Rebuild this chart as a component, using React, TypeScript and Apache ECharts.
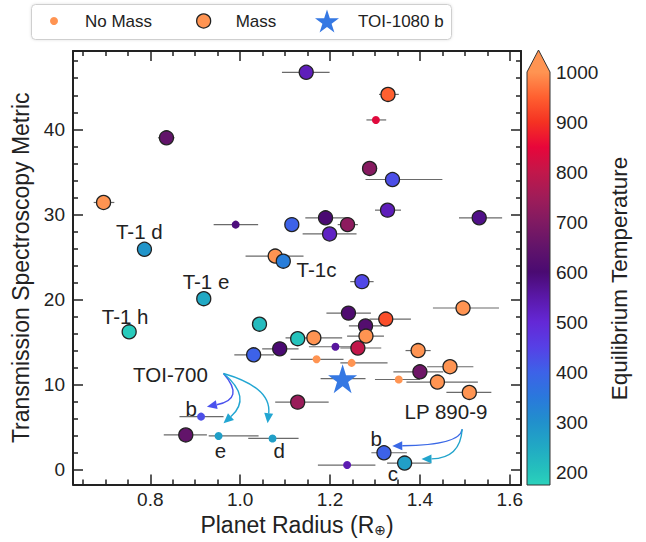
import React, { useEffect, useRef } from 'react';
import * as echarts from 'echarts';

// ---------- data ----------
// [radius (R_earth), TSM, Teq (K), radius low, radius high]
const massPlanets: number[][] = [
  [1.147, 46.7, 530, 1.093, 1.199],
  [1.329, 44.1, 950, 1.309, 1.353],
  [0.836, 39.0, 650, 0.817, 0.854],
  [0.696, 31.4, 1000, 0.674, 0.72],
  [1.288, 35.4, 710, 1.274, 1.305],
  [1.339, 34.1, 430, 1.279, 1.45],
  [1.328, 30.5, 530, 1.3, 1.358],
  [1.532, 29.6, 580, 1.487, 1.583],
  [1.19, 29.6, 600, 1.145, 1.241],
  [1.239, 28.8, 720, 1.217, 1.262],
  [1.199, 27.7, 520, 1.139, 1.259],
  [1.115, 28.8, 400, 1.115, 1.115],
  [1.078, 25.1, 1000, 1.012, 1.141],
  [1.096, 24.5, 340, 1.096, 1.096], // TRAPPIST-1 c
  [0.787, 25.9, 290, 0.787, 0.787], // TRAPPIST-1 d
  [0.919, 20.1, 250, 0.919, 0.919], // TRAPPIST-1 e
  [0.753, 16.2, 175, 0.753, 0.753], // TRAPPIST-1 h
  [1.043, 17.1, 215, 1.043, 1.043],
  [1.128, 15.4, 200, 1.115, 1.145],
  [1.03, 13.5, 400, 0.987, 1.075],
  [1.088, 14.2, 600, 1.049, 1.13],
  [1.128, 7.94, 740, 1.078, 1.197],
  [0.879, 4.09, 650, 0.83, 0.926],
  [1.271, 22.1, 440, 1.245, 1.297],
  [1.496, 19.0, 1000, 1.429, 1.576],
  [1.241, 18.4, 610, 1.192, 1.291],
  [1.324, 17.7, 930, 1.288, 1.38],
  [1.279, 16.9, 620, 1.242, 1.316],
  [1.164, 15.5, 1000, 1.101, 1.227],
  [1.28, 15.7, 1000, 1.238, 1.32],
  [1.262, 14.3, 800, 1.223, 1.314],
  [1.396, 14.0, 1000, 1.368, 1.424],
  [1.467, 12.1, 1000, 1.416, 1.519],
  [1.4, 11.5, 670, 1.341, 1.452],
  [1.439, 10.3, 1000, 1.37, 1.529],
  [1.51, 9.08, 1000, 1.459, 1.559],
  [1.32, 1.99, 400, 1.292, 1.371], // LP 890-9 b
  [1.366, 0.78, 270, 1.327, 1.424], // LP 890-9 c
];

const noMassPlanets: number[][] = [
  [1.302, 41.1, 840, 1.281, 1.325],
  [0.99, 28.8, 590, 0.941, 1.04],
  [0.913, 6.24, 430, 0.865, 0.963], // TOI-700 b
  [0.952, 3.97, 270, 0.93, 1.041], // TOI-700 e
  [1.072, 3.67, 270, 1.018, 1.13], // TOI-700 d
  [1.212, 14.45, 560, 1.153, 1.264],
  [1.17, 12.97, 1000, 1.112, 1.23],
  [1.248, 12.55, 1000, 1.223, 1.328],
  [1.353, 10.6, 1000, 1.3, 1.4],
  [1.238, 0.55, 540, 1.173, 1.301],
];

// [radius, TSM, radius low, radius high]
const toi1080b: number[] = [1.228, 10.7, 1.179, 1.279];

// annotation anchors [x, y] and texts
const annotationPos: number[][] = [
  [0.7755, 27.94],
  [0.924, 22.1],
  [0.744, 17.98],
  [1.17, 23.5],
  [0.845, 11.16],
  [0.891, 7.15],
  [0.956, 2.28],
  [1.087, 2.28],
  [1.458, 6.88],
  [1.303, 3.64],
  [1.34, -0.5],
];
const annotationText = ['T-1 d', 'T-1 e', 'T-1 h', 'T-1c', 'TOI-700', 'b', 'e', 'd', 'LP 890-9', 'b', 'c'];

// arrows: [x start, y start, x end, y end, x control, y control]
const arrows: number[][] = [
  [0.963, 11.3, 0.926, 7.41, 1.012, 8.31],
  [0.963, 11.3, 0.963, 5.46, 1.027, 8.49],
  [0.963, 11.3, 1.061, 5.46, 1.07, 9.66],
  [1.494, 4.75, 1.3385, 2.8, 1.49, 2.89],
  [1.494, 4.75, 1.4036, 1.25, 1.49, 1.33],
];
const arrowColors = ['#4a52ee', '#22a6d2', '#22a6d2', '#3a68e6', '#22a4cc'];

// axes
const xRange = [0.628, 1.625];
const yRange = [-1.75, 49.2];
const xMajor = [0.8, 1.0, 1.2, 1.4, 1.6];
const xMinor = [0.65, 0.7, 0.75, 0.85, 0.9, 0.95, 1.05, 1.1, 1.15, 1.25, 1.3, 1.35, 1.45, 1.5, 1.55];
const yMajor = [0, 10, 20, 30, 40];
const yMinor = [2, 4, 6, 8, 12, 14, 16, 18, 22, 24, 26, 28, 32, 34, 36, 38, 42, 44, 46, 48];
const tempRange = [174, 1000];
const tempTicks = [200, 300, 400, 500, 600, 700, 800, 900, 1000];

// colour map: temperatures 150..1000 every 50
const cmapMin = 150;
const cmapStep = 50;
const cmapColors = [
  '#2bd2bc', '#25c3bc', '#21a9c4', '#2190cc', '#2a78dc', '#3d62e8', '#5640e6', '#6428d6',
  '#5a18a8', '#4a0a72', '#62146a', '#801a62', '#a01c58', '#c2174a', '#e8063a', '#f53222',
  '#ff6030', '#ff9452',
];

// ---------- styling ----------
const fontFamily = "'Liberation Sans', Arial, Helvetica, sans-serif";
const ink = '#222';
const starPts = Array.from({ length: 10 }, (_, i) => {
  const a = -Math.PI / 2 + (i * Math.PI) / 5;
  const r = i % 2 === 0 ? 1 : 0.382;
  return [Math.cos(a) * r * 50 + 50, Math.sin(a) * r * 50 + 50];
});
const starPath = 'path://M' + starPts.map((p) => `${p[0].toFixed(2)} ${p[1].toFixed(2)}`).join(' L') + ' Z';
const starColor = '#3578e3';
const orange = cmapColors[cmapColors.length - 1];

function mainAxis(
  dim: 'x' | 'y',
  position: string,
  ticks: number[],
  len: number,
  showLine: boolean,
  label: boolean,
) {
  const range = dim === 'x' ? xRange : yRange;
  const ax: any = {
    type: 'value',
    gridIndex: 0,
    position,
    min: range[0],
    max: range[1],
    axisLine: { show: showLine, onZero: false, lineStyle: { color: ink, width: 2 } },
    axisTick: { show: true, inside: true, length: len, customValues: ticks, lineStyle: { color: ink, width: 1.5 } },
    axisLabel: { show: false },
    splitLine: { show: false },
  };
  if (label) {
    ax.axisLabel = {
      show: true,
      customValues: ticks,
      fontSize: 19,
      color: ink,
      fontFamily,
      margin: dim === 'x' ? 5 : 8,
      formatter: (v: number) => (dim === 'x' ? v.toFixed(1) : String(Math.round(v))),
    };
  }
  return ax;
}

export default function App() {
  const ref = useRef<HTMLDivElement>(null);

  useEffect(() => {
    document.body.style.margin = '0';
    const chart = echarts.init(ref.current!, null, { renderer: 'svg' });

    const errorData = [
      ...massPlanets.map((d) => [d[0], d[1], d[3], d[4]]),
      ...noMassPlanets.map((d) => [d[0], d[1], d[3], d[4]]),
      [toi1080b[0], toi1080b[1], toi1080b[2], toi1080b[3]],
    ];

    const span = tempRange[1] - tempRange[0];
    const stops = cmapColors.map((c, i) => {
      const t = cmapMin + i * cmapStep;
      return { offset: Math.min(1, Math.max(0, (t - tempRange[0]) / span)), color: c };
    });
    const gradient = new echarts.graphic.LinearGradient(0, 1, 0, 0, stops);

    const xName = {
      name: '{a|Planet Radius (R}{s|⊕}{a|)}',
      nameLocation: 'middle',
      nameGap: 25,
      nameTextStyle: {
        rich: {
          a: { fontSize: 23, color: ink, fontFamily },
          s: { fontSize: 14, color: ink, fontFamily: 'DejaVu Sans', padding: [10, 0, 0, 0] },
        },
      },
    };

    const option: any = {
      animation: false,
      backgroundColor: '#fff',
      textStyle: { fontFamily },
      grid: [
        { left: 73, right: 125, top: 51, bottom: 57 },
        { left: 527, width: 23, top: 72, bottom: 57 },
      ],
      xAxis: [
        { ...mainAxis('x', 'bottom', xMajor, 10, true, true), ...xName },
        mainAxis('x', 'bottom', xMinor, 5, false, false),
        mainAxis('x', 'top', xMajor, 10, true, false),
        mainAxis('x', 'top', xMinor, 5, false, false),
        { type: 'value', gridIndex: 1, min: 0, max: 1, show: false },
      ],
      yAxis: [
        {
          ...mainAxis('y', 'left', yMajor, 10, true, true),
          name: 'Transmission Spectroscopy Metric',
          nameLocation: 'middle',
          nameGap: 36,
          nameRotate: 90,
          nameTextStyle: { fontSize: 23, color: ink, fontFamily },
        },
        mainAxis('y', 'left', yMinor, 5, false, false),
        mainAxis('y', 'right', yMajor, 10, true, false),
        mainAxis('y', 'right', yMinor, 5, false, false),
        {
          type: 'value',
          gridIndex: 1,
          position: 'right',
          min: tempRange[0],
          max: tempRange[1],
          axisLine: { show: false },
          axisTick: { show: true, inside: false, length: 4, customValues: tempTicks, lineStyle: { color: '#333', width: 1 } },
          axisLabel: {
            customValues: tempTicks,
            fontSize: 19,
            color: ink,
            fontFamily,
            margin: 6,
            formatter: (v: number) => String(Math.round(v)),
          },
          splitLine: { show: false },
          name: 'Equilibrium Temperature',
          nameLocation: 'middle',
          nameRotate: 90,
          nameGap: 58,
          nameTextStyle: { fontSize: 22.5, color: ink, fontFamily },
        },
      ],
      visualMap: {
        type: 'continuous',
        show: false,
        seriesIndex: [1, 2],
        dimension: 2,
        min: cmapMin,
        max: cmapMin + cmapStep * (cmapColors.length - 1),
        inRange: { color: cmapColors },
      },
      legend: [
        {
          data: [{ name: 'No Mass', icon: 'circle', itemStyle: { color: orange, borderWidth: 0 } }],
          left: 50, top: 11, padding: 0, itemWidth: 8, itemHeight: 8, selectedMode: false,
          textStyle: { fontSize: 17, color: ink, fontFamily, lineHeight: 20, padding: [0, 0, 0, 22] },
        },
        {
          data: [{ name: 'Mass', icon: 'circle', itemStyle: { color: orange, borderColor: ink, borderWidth: 1.3 } }],
          left: 196, top: 11, padding: 0, itemWidth: 14, itemHeight: 14, selectedMode: false,
          textStyle: { fontSize: 17, color: ink, fontFamily, lineHeight: 20, padding: [0, 0, 0, 20] },
        },
        {
          data: [{ name: 'TOI-1080 b', icon: starPath, itemStyle: { color: starColor, borderWidth: 0 } }],
          left: 315, top: 9, padding: 0, itemWidth: 24, itemHeight: 24, selectedMode: false,
          textStyle: { fontSize: 17, color: ink, fontFamily, lineHeight: 24, padding: [0, 0, 0, 14] },
        },
      ],
      graphic: [
        {
          type: 'rect',
          left: 31,
          top: 4,
          z: 0,
          shape: { width: 420, height: 35, r: 4 },
          style: { fill: '#fff', stroke: '#cfcfcf', lineWidth: 1, shadowBlur: 3, shadowColor: 'rgba(0,0,0,0.12)' },
        },
      ],
      series: [
        {
          type: 'custom',
          name: 'errors',
          xAxisIndex: 0,
          yAxisIndex: 0,
          z: 1,
          silent: true,
          data: errorData,
          renderItem: (params: any, api: any) => {
            const y = api.value(1);
            const a = api.coord([api.value(2), y]);
            const b = api.coord([api.value(3), y]);
            return {
              type: 'line',
              shape: { x1: a[0], y1: a[1], x2: b[0], y2: b[1] },
              style: { stroke: '#6a6a6a', lineWidth: 1.2 },
            };
          },
        },
        {
          type: 'scatter',
          name: 'No Mass',
          xAxisIndex: 0,
          yAxisIndex: 0,
          symbol: 'circle',
          symbolSize: 8,
          itemStyle: { color: orange, opacity: 1 },
          data: noMassPlanets.map((d) => [d[0], d[1], d[2]]),
        },
        {
          type: 'scatter',
          name: 'Mass',
          xAxisIndex: 0,
          yAxisIndex: 0,
          symbol: 'circle',
          symbolSize: 14,
          itemStyle: { color: orange, borderColor: ink, borderWidth: 1.3, opacity: 1 },
          data: massPlanets.map((d) => [d[0], d[1], d[2]]),
        },
        {
          type: 'scatter',
          name: 'TOI-1080 b',
          xAxisIndex: 0,
          yAxisIndex: 0,
          symbol: starPath,
          symbolSize: 29,
          itemStyle: { color: starColor, opacity: 1 },
          data: [[toi1080b[0], toi1080b[1]]],
        },
        {
          type: 'custom',
          name: 'arrows',
          xAxisIndex: 0,
          yAxisIndex: 0,
          silent: true,
          data: arrows,
          renderItem: (params: any, api: any) => {
            const p1 = api.coord([api.value(0), api.value(1)]);
            const p2 = api.coord([api.value(2), api.value(3)]);
            const c = api.coord([api.value(4), api.value(5)]);
            let tx = p2[0] - c[0];
            let ty = p2[1] - c[1];
            const tl = Math.hypot(tx, ty) || 1;
            tx /= tl;
            ty /= tl;
            const L = 10;
            const W = 4.5;
            const bx = p2[0] - tx * L;
            const by = p2[1] - ty * L;
            const color = arrowColors[params.dataIndex];
            return {
              type: 'group',
              children: [
                {
                  type: 'bezierCurve',
                  shape: { x1: p1[0], y1: p1[1], x2: bx, y2: by, cpx1: c[0], cpy1: c[1] },
                  style: { stroke: color, lineWidth: 1.4, fill: 'none' },
                },
                {
                  type: 'polygon',
                  shape: { points: [[p2[0], p2[1]], [bx - ty * W, by + tx * W], [bx + ty * W, by - tx * W]] },
                  style: { fill: color },
                },
              ],
            };
          },
        },
        {
          type: 'custom',
          name: 'labels',
          xAxisIndex: 0,
          yAxisIndex: 0,
          silent: true,
          clip: false,
          data: annotationPos,
          renderItem: (params: any, api: any) => {
            const p = api.coord([api.value(0), api.value(1)]);
            return {
              type: 'text',
              x: p[0],
              y: p[1],
              style: {
                text: annotationText[params.dataIndex],
                fill: ink,
                fontSize: 20.5,
                fontFamily,
                align: 'center',
                verticalAlign: 'middle',
              },
            };
          },
        },
        {
          type: 'custom',
          name: 'colorbar',
          xAxisIndex: 4,
          yAxisIndex: 4,
          silent: true,
          data: [[0, tempRange[0]]],
          renderItem: (params: any, api: any) => {
            const tl = api.coord([0, tempRange[1]]);
            const br = api.coord([1, tempRange[0]]);
            const w = br[0] - tl[0];
            const h = br[1] - tl[1];
            const tipH = 22;
            return {
              type: 'group',
              children: [
                { type: 'rect', shape: { x: tl[0], y: tl[1], width: w, height: h }, style: { fill: gradient } },
                {
                  type: 'polygon',
                  shape: { points: [[tl[0], tl[1]], [br[0], tl[1]], [tl[0] + w / 2, tl[1] - tipH]] },
                  style: { fill: orange },
                },
                {
                  type: 'polygon',
                  shape: {
                    points: [
                      [tl[0], br[1]],
                      [br[0], br[1]],
                      [br[0], tl[1]],
                      [tl[0] + w / 2, tl[1] - tipH],
                      [tl[0], tl[1]],
                    ],
                  },
                  style: { fill: 'none', stroke: '#333', lineWidth: 1 },
                },
              ],
            };
          },
        },
      ],
    };

    chart.setOption(option);
    return () => chart.dispose();
  }, []);

  return <div ref={ref} style={{ width: 646, height: 542 }} />;
}
